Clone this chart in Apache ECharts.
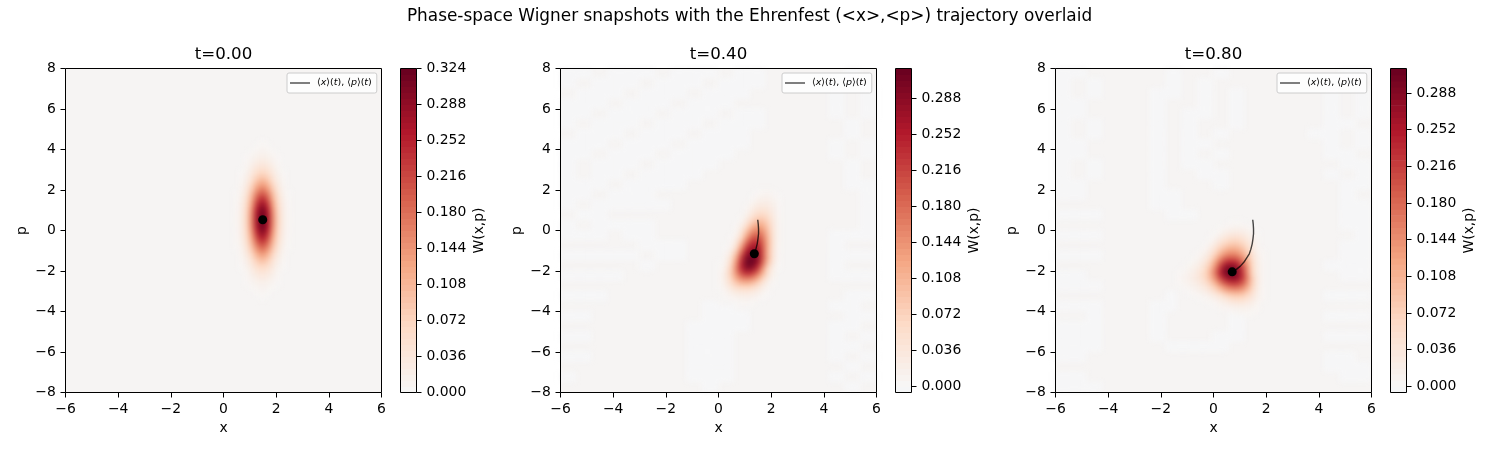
<!DOCTYPE html>
<html>
<head>
<meta charset="utf-8">
<style>html,body{margin:0;padding:0;background:#fff}#c{width:1500px;height:450px}</style>
<script src="https://cdn.jsdelivr.net/npm/echarts@6/dist/echarts.min.js"></script>
</head>
<body>
<div id="c"></div>
<script>
// Wigner values, in thousandths; rows run top (high p) to bottom.
const panelTitles = ['t=0.00', 't=0.40', 't=0.80'];
const xTicks = [-6, -4, -2, 0, 2, 4, 6];
const pTicks = [-8, -6, -4, -2, 0, 2, 4, 6, 8];
const colorbarMin = [0, -0.006, -0.006];
const colorbarMax = [0.324, 0.318, 0.312];
const colorbarTicks0 = [0, 0.036, 0.072, 0.108, 0.144, 0.18, 0.216, 0.252, 0.288, 0.324];
const colorbarTicks1 = [0, 0.036, 0.072, 0.108, 0.144, 0.18, 0.216, 0.252, 0.288];
const colorbarTicks2 = [0, 0.036, 0.072, 0.108, 0.144, 0.18, 0.216, 0.252, 0.288];

const firstColumnX = [0.5, 0.1, -1.3];
const firstRowP = [4.375, 1.875, 0.375];

const wigner0 = [
[0,0,0,1,2,4,2,1,0,0,0],
[0,0,1,1,5,7,5,1,1,0,0],
[0,1,2,5,9,11,9,5,2,1,0],
[1,1,4,9,15,18,15,9,4,1,1],
[0,2,6,14,24,29,24,14,6,2,0],
[0,2,8,21,36,43,36,21,8,2,0],
[1,4,12,30,52,62,52,30,12,4,1],
[2,6,18,42,72,87,72,42,18,6,2],
[2,8,24,56,97,116,97,56,24,8,2],
[3,11,32,74,126,151,126,74,32,11,3],
[4,14,40,92,157,189,157,92,40,14,4],
[5,17,48,110,189,227,189,110,48,17,5],
[6,20,55,127,219,263,219,127,55,20,6],
[6,22,62,142,245,294,245,142,62,22,6],
[7,23,67,153,264,316,264,153,67,23,7],
[7,24,69,159,273,328,273,159,69,24,7],
[7,24,69,159,273,328,273,159,69,24,7],
[7,23,67,153,264,316,264,153,67,23,7],
[6,22,62,142,245,294,245,142,62,22,6],
[6,20,55,127,219,263,219,127,55,20,6],
[5,17,48,110,189,227,189,110,48,17,5],
[4,14,40,92,157,189,157,92,40,14,4],
[3,11,32,74,126,151,126,74,32,11,3],
[2,8,24,56,97,116,97,56,24,8,2],
[2,6,18,42,72,87,72,42,18,6,2],
[1,4,12,30,52,62,52,30,12,4,1],
[0,2,8,21,36,43,36,21,8,2,0],
[0,2,6,14,24,29,24,14,6,2,0],
[1,1,4,9,15,18,15,9,4,1,1],
[0,1,2,5,9,11,9,5,2,1,0],
[0,0,1,1,5,7,5,1,1,0,0],
[0,0,0,1,2,4,2,1,0,0,0]
];
const wigner1 = [
[0,0,0,0,0,0,2,4,7,8,5,2],
[0,0,0,0,0,1,4,9,13,13,9,4],
[0,0,0,0,0,3,9,18,22,21,14,6],
[0,0,0,0,2,7,18,30,35,31,20,7],
[0,0,0,0,3,12,30,46,52,42,24,8],
[0,0,0,1,6,22,48,70,74,58,30,9],
[0,0,0,3,12,38,76,100,100,72,36,10],
[0,0,1,6,25,66,112,135,125,86,38,11],
[0,0,3,10,42,98,150,170,150,96,42,10],
[0,1,4,20,64,135,190,205,172,106,44,11],
[0,2,8,34,96,178,232,236,188,112,44,10],
[1,4,13,54,136,222,268,264,200,112,42,9],
[1,7,28,86,180,264,298,280,204,108,40,8],
[3,13,46,118,220,294,315,288,206,110,41,8],
[4,17,60,142,240,308,317,276,190,97,33,6],
[5,23,72,156,242,292,290,238,152,68,21,4],
[8,32,78,148,212,242,232,186,118,52,17,3],
[9,30,70,122,160,174,164,127,78,34,10,2],
[7,26,54,86,108,112,102,76,44,17,5,1],
[5,16,34,52,60,63,55,39,22,9,3,0],
[3,9,17,26,30,32,28,19,10,4,1,0],
[1,4,8,11,14,15,13,8,4,2,0,0],
[0,2,3,4,6,6,5,3,1,0,0,0]
];
const wigner2 = [
[0,0,0,0,0,0,0,0,2,3,4,5,4,3,1,0,0,0],
[0,0,0,0,0,0,0,2,4,8,11,12,11,8,4,1,0,0],
[0,0,0,0,0,0,2,5,11,18,24,26,24,18,9,4,1,0],
[0,0,0,0,0,1,4,11,24,38,46,48,42,30,16,6,1,0],
[0,0,0,0,1,3,9,24,44,62,72,74,64,44,22,8,2,0],
[0,0,0,1,2,7,19,42,70,92,104,102,88,62,31,11,3,0],
[0,0,1,2,6,15,33,64,100,128,140,136,114,80,40,14,6,1],
[0,1,2,5,12,25,50,92,140,176,186,180,150,101,50,19,7,1],
[1,2,5,10,20,38,72,126,190,235,245,235,190,125,58,21,8,1],
[2,5,10,18,30,52,92,155,228,285,300,280,225,145,64,23,8,1],
[4,8,14,24,40,64,106,170,245,298,312,290,235,150,67,23,8,1],
[6,10,17,27,40,62,98,150,215,262,280,275,235,160,76,27,8,1],
[5,9,14,21,31,48,75,116,165,205,225,225,200,145,75,27,8,1],
[2,5,8,13,19,30,48,74,108,140,160,165,152,115,65,25,7,1],
[1,2,4,6,10,16,26,42,62,84,100,106,100,78,47,20,6,0],
[0,0,1,2,4,7,12,20,30,43,54,61,60,49,33,15,6,0],
[0,0,0,1,2,3,5,8,14,20,27,31,32,26,19,9,2,0],
[0,0,0,0,0,1,2,3,6,8,11,13,14,13,10,6,1,0],
[0,0,0,0,0,0,0,1,2,3,4,5,6,6,5,2,0,0]
];
// Where the slightly negative (bluish) ripples show: '#' marks a patch.
const ripples0 = [];
const ripples1 = [
"##.###.###.##.....#.",
"#.###.###.###.....#.",
".###.###.###.....#.#",
"###.###.###......#.#",
"##.###.###.##....#.#",
"#.###.###.###.....#.",
".###.###.###......#.",
"###.###.####.....#.#",
"##.###.####......#.#",
"#.###.####........#.",
"#.##.####.........#.",
"###.####..........##",
"##.###.............#",
"#.#####............#",
".##................#",
"#.####.............#",
"###.##...........###",
".....###.........#..",
"#####.##.........###",
".....#...........#..",
"####.............###",
"....................",
"###...............##",
".........##......##.",
"##.......###......##",
"........####.....##.",
"##......###......#.#",
"........###......##.",
"##......###......#.#",
"........###.......#.",
"#.......###......#.#",
".........#........#."
];
const ripples2 = [
"##.....#..#.......##",
"#.#....#.#........#.",
"#.#...##.#.#.....#.#",
"##....#..#.#.....#.#",
"##....#.##.#.....#.#",
"#.#...#.#..#.....##.",
"#.#...#.#.#.....##.#",
"##....#.##.......#.#",
"##....#.#.#......##.",
"#.#...#.##........##",
"#.#...#..##......#.#",
"##....#...#.......##",
"##....##..........#.",
"......##..........##",
"###....##.........##",
"........###.......##",
"###................#",
"..................##",
"###...............##",
".................###",
"##................##",
"###.................",
".......####......###",
"###...##..##........",
"..#...#....#.....###",
"###...#....#........",
"###...#...##.....###",
"###....####.........",
"##...............##.",
".................###",
"##................##",
"###.................",
];
const rippleValue = -0.0022;
const bandFloor = 4; // values under this share the background colour
// Ehrenfest trajectory, from the start point to the latest dot.
const trajectoryX = [1.49, 1.51, 1.52, 1.52, 1.50, 1.47, 1.42, 1.36, 1.28, 1.16, 1.02, 0.87, 0.71];
const trajectoryP = [0.53, 0.30, 0.08, -0.16, -0.40, -0.66, -0.92, -1.15, -1.32, -1.56, -1.76, -1.92, -2.04];
const trajectoryCount = [1, 8, 13];

const FONT = '"DejaVu Sans", sans-serif';
const RDBU = ['#053061','#2166ac','#4393c3','#92c5de','#d1e5f0','#f7f7f7','#fddbc7','#f4a582','#d6604d','#b2182b','#67001f'];
const LEFT = [65, 560, 1055];
const CB_LEFT = [400, 895, 1390];
const TOP = 68, W = 316, H = 324, CB_W = 16;
const minusFmt = v => String(v).replace('-', '\u2212');
const xCats = Array.from({length: 60}, (_, i) => String(i));
const pCats = Array.from({length: 64}, (_, i) => String(i));

function heatData(table, ripples, x0, p0) {
  const cells = new Map();
  ripples.forEach((row, r) => {
    for (let c = 0; c < row.length; c++) {
      if (row[c] !== '#') continue;
      for (let a = 0; a < 3; a++) for (let b = 0; b < 2; b++) {
        cells.set((3 * c + a) + ',' + (63 - 2 * r - b), rippleValue);
      }
    }
  });
  const col0 = Math.round((x0 + 5.9) / 0.2), row0 = Math.round((p0 + 7.875) / 0.25);
  table.forEach((row, r) => row.forEach((v, c) => {
    const key = (col0 + c) + ',' + (row0 - r);
    if (v >= bandFloor) cells.set(key, v / 1000);
    else cells.delete(key);
  }));
  return Array.from(cells, ([k, v]) => { const [a, b] = k.split(','); return [+a, +b, v]; });
}
function bandColor(v, vmax) {
  return echarts.color.lerp((v + vmax) / (2 * vmax), RDBU);
}
const tables = [wigner0, wigner1, wigner2];
const ripples = [ripples0, ripples1, ripples2];
const cbTicks = [colorbarTicks0, colorbarTicks1, colorbarTicks2];

const grid = [], xAxis = [], yAxis = [], series = [], visualMap = [], legend = [];
const title = [{text: 'Phase-space Wigner snapshots with the Ehrenfest (<x>,<p>) trajectory overlaid',
  left: 749.5, top: 8, padding: 0, textAlign: 'center', textStyle: {fontFamily: FONT, fontSize: 16.9, fontWeight: 'normal', color: '#000'}}];

panelTitles.forEach((name, i) => {
  const L = LEFT[i], CB = CB_LEFT[i], vmin = colorbarMin[i], vmax = colorbarMax[i];
  const g = grid.length;
  title.push({text: name, left: L + W / 2 + 0.5, top: 46, padding: 0, textAlign: 'center',
    textStyle: {fontFamily: FONT, fontSize: 16.67, fontWeight: 'normal', color: '#000'}});
  // heat layer
  grid.push({left: L, top: TOP, width: W, height: H, show: true, zlevel: -2,
    backgroundColor: '#f6f4f3', borderWidth: 0});
  xAxis.push({type: 'category', gridIndex: g, data: xCats, show: false});
  yAxis.push({type: 'category', gridIndex: g, data: pCats, show: false});
  const heatIndex = series.length;
  series.push({type: 'heatmap', xAxisIndex: g, yAxisIndex: g, zlevel: -1, silent: true, progressive: 0,
    data: heatData(tables[i], ripples[i], firstColumnX[i], firstRowP[i]), itemStyle: {borderWidth: 0}, emphasis: {disabled: true}});
  visualMap.push({show: false, type: 'continuous', seriesIndex: heatIndex, dimension: 2,
    min: -vmax, max: vmax, inRange: {color: RDBU}});
  // value axes on top
  const axisCommon = {
    type: 'value', gridIndex: g + 1, splitLine: {show: false}, axisLine: {show: false, onZero: false},
    axisTick: {show: true, length: 5, lineStyle: {color: '#000', width: 1}},
    nameLocation: 'middle', nameTextStyle: {fontFamily: FONT, fontSize: 13.9, color: '#000'},
    axisLabel: {fontFamily: FONT, fontSize: 13.9, color: '#000', formatter: minusFmt, hideOverlap: false, showMinLabel: true, showMaxLabel: true}
  };
  grid.push({left: L + 0.5, top: TOP + 0.5, width: W, height: H, show: true, z: 5, backgroundColor: 'transparent', borderColor: '#000', borderWidth: 1});
  xAxis.push(Object.assign({}, axisCommon, {min: -6, max: 6, interval: 2, name: 'x', nameGap: 29,
    axisLabel: Object.assign({}, axisCommon.axisLabel, {margin: 9.7})}));
  yAxis.push(Object.assign({}, axisCommon, {min: -8, max: 8, interval: 2, name: 'p', nameGap: 36,
    axisLabel: Object.assign({}, axisCommon.axisLabel, {margin: 9.7, padding: [4, 0, 0, 0]})}));
  const tx = trajectoryX.slice(0, trajectoryCount[i]), tp = trajectoryP.slice(0, trajectoryCount[i]);
  series.push({type: 'line', name: '<x>(t), <p>(t)', xAxisIndex: g + 1, yAxisIndex: g + 1, silent: true,
    showSymbol: false, symbol: 'none', z: 3, smooth: false, color: 'rgba(0,0,0,0.72)',
    lineStyle: {color: 'rgba(0,0,0,0.72)', width: 1.4},
    data: tx.map((x, k) => [x, tp[k]])});
  series.push({type: 'scatter', name: 'now', xAxisIndex: g + 1, yAxisIndex: g + 1, silent: true, symbolSize: 9, z: 4,
    itemStyle: {color: '#000', opacity: 1}, data: [[tx[tx.length - 1], tp[tp.length - 1]]]});
  legend.push({show: true, data: [{name: '<x>(t), <p>(t)', icon: 'rect'}], left: L + 222, top: 73, orient: 'horizontal', selectedMode: false,
    padding: [5, 5, 5, 3], itemWidth: 20, itemHeight: 1.4, itemGap: 0,
    backgroundColor: 'rgba(255,255,255,0.8)', borderColor: '#ccc', borderWidth: 1, borderRadius: 2,
    formatter: () => '{u|\u27e8}{i|x}{u|\u27e9(}{i|t}{u|), \u27e8}{i|p}{u|\u27e9(}{i|t}{u|)}',
    textStyle: {fontFamily: FONT, fontSize: 9.5, color: '#000', padding: [0, 0, 0, 2],
      rich: {u: {fontFamily: FONT, fontSize: 9.5, color: '#000'}, i: {fontFamily: FONT, fontStyle: 'italic', fontSize: 9.5, color: '#000'}}}});
  // colour bar
  grid.push({left: CB + 0.5, top: TOP + 0.5, width: CB_W, height: H, show: true, z: 5, backgroundColor: 'transparent', borderColor: '#000', borderWidth: 1});
  xAxis.push({type: 'value', gridIndex: g + 2, min: 0, max: 1, show: false});
  yAxis.push({type: 'value', gridIndex: g + 2, position: 'right', min: vmin, max: vmax,
    splitLine: {show: false}, axisLine: {show: false, onZero: false},
    axisTick: {show: true, length: 5, lineStyle: {color: '#000', width: 1}, customValues: cbTicks[i]},
    axisLabel: {fontFamily: FONT, fontSize: 13.9, color: '#000', margin: 10, padding: [4, 0, 0, 0], customValues: cbTicks[i], formatter: v => v.toFixed(3)},
    name: 'W(x,p)', nameLocation: 'middle', nameRotate: 90, nameGap: 56,
    nameTextStyle: {fontFamily: FONT, fontSize: 13.9, color: '#000'}});
  const bands = [];
  const nBands = Math.round((vmax - vmin) / 0.006);
  for (let k = 0; k < nBands; k++) bands.push([vmin + k * 0.006, vmin + (k + 1) * 0.006]);
  series.push({type: 'custom', xAxisIndex: g + 2, yAxisIndex: g + 2, silent: true, clip: true,
    encode: {y: [0, 1]}, data: bands,
    renderItem: (params, api) => {
      const lo = api.value(0), hi = api.value(1);
      const a = api.coord([0, lo]), b = api.coord([1, hi]);
      return {type: 'rect', shape: {x: a[0], y: b[1], width: b[0] - a[0], height: a[1] - b[1] + 0.6},
        style: {fill: bandColor((lo + hi) / 2, vmax)}};
    }});
});

const chart = echarts.init(document.getElementById('c'), null, {width: 1500, height: 450, renderer: 'canvas'});
chart.setOption({animation: false, backgroundColor: 'transparent', tooltip: {show: false},
  title, grid, xAxis, yAxis, series, visualMap, legend});
const heatCanvas = document.querySelector('canvas[data-zr-dom-id="zr_-1"]');
if (heatCanvas) heatCanvas.style.filter = 'blur(2.5px)';
</script>
</body>
</html>
